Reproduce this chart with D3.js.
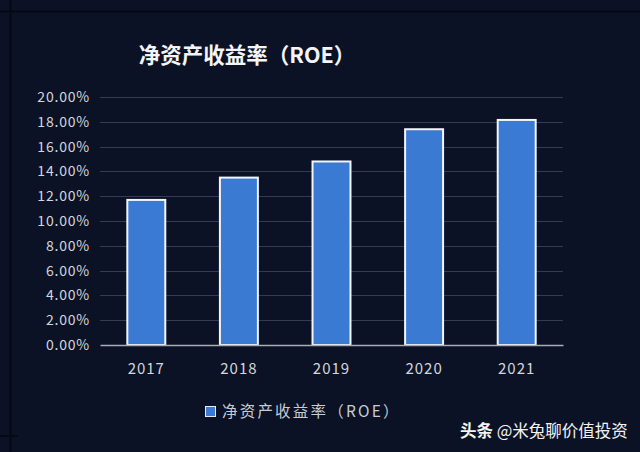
<!DOCTYPE html>
<html><head><meta charset="utf-8">
<script src="https://cdn.jsdelivr.net/npm/d3@7"></script>
<style>html,body{margin:0;padding:0;background:#0b1226;}svg{display:block;}</style>
</head><body><svg id="c" width="640" height="452"></svg>
<script>
const categories = ["2017","2018","2019","2020","2021"];
const roeValues = [11.7, 13.5, 14.8, 17.4, 18.15];
const yTicks = [0,2,4,6,8,10,12,14,16,18,20];
const titleText = "净资产收益率（ROE）";
const legendText = "净资产收益率（ROE）";

const svg = d3.select("#c");
svg.append("rect").attr("width",640).attr("height",452).attr("fill","#0b1226");
// frame lines
svg.append("line").attr("x1",0).attr("x2",640).attr("y1",11.5).attr("y2",11.5).attr("stroke","#050913").attr("stroke-width",2);
svg.append("line").attr("x1",10.5).attr("x2",10.5).attr("y1",0).attr("y2",452).attr("stroke","#050913").attr("stroke-width",2);
svg.append("line").attr("x1",0).attr("x2",18).attr("y1",436).attr("y2",436).attr("stroke","#050913").attr("stroke-width",2);

const x = d3.scaleBand().domain(categories).range([100,563]).paddingInner(0.59).paddingOuter(0.295);
const y = d3.scaleLinear().domain([0,20]).range([345,97]);

const font = "'Noto Sans CJK SC','Noto Sans',sans-serif";

// gridlines
svg.append("g").selectAll("line").data(yTicks.filter(d=>d>0)).join("line")
  .attr("x1",100).attr("x2",563).attr("y1",d=>Math.round(y(d))+0.5).attr("y2",d=>Math.round(y(d))+0.5)
  .attr("stroke","#343b52").attr("stroke-width",1.2);

// y axis labels
const yAxis = d3.axisLeft(y).tickValues(yTicks).tickSize(0).tickPadding(10).tickFormat(d=>d.toFixed(2)+"%");
const yg = svg.append("g").attr("transform","translate(100,0)").call(yAxis);
yg.select(".domain").remove();
yg.selectAll("text").attr("fill","#d4d6dc").attr("font-size",14).attr("letter-spacing",0.8).attr("font-family",font);

// bars
svg.append("g").selectAll("rect").data(roeValues).join("rect")
  .attr("x",(d,i)=>x(categories[i])).attr("width",x.bandwidth())
  .attr("y",d=>y(d)).attr("height",d=>y(0)-y(d))
  .attr("fill","#3b7ad3").attr("stroke","#f2f6fb").attr("stroke-width",2);

// x axis
const xAxis = d3.axisBottom(x).tickSize(0).tickPadding(18);
const xg = svg.append("g").attr("transform","translate(0,345)").call(xAxis);
xg.select(".domain").attr("stroke","#a8adb8").attr("stroke-width",1.3);
xg.selectAll("text").attr("fill","#d4d6dc").attr("font-size",15).attr("letter-spacing",1).attr("font-family",font);

// title
svg.append("text").attr("x",247).attr("y",63).attr("text-anchor","middle")
  .attr("fill","#f4f5f8").attr("font-size",21.5).attr("font-weight","bold").attr("font-family",font)
  .text(titleText);

// legend
svg.append("rect").attr("x",205.5).attr("y",406.5).attr("width",10).attr("height",10)
  .attr("fill","#3b7ad3").attr("stroke","#e8ecf2").attr("stroke-width",1);
svg.append("text").attr("x",222).attr("y",417).attr("fill","#c9ccd4").attr("font-size",15.5)
  .attr("font-family",font).attr("letter-spacing",2.2).text(legendText);

// watermark
const wm = svg.append("text").attr("x",460).attr("y",437).attr("fill","#f2f2f2").attr("font-size",16.5).attr("font-family",font);
wm.append("tspan").attr("font-weight","bold").text("头条");
wm.append("tspan").text(" @米兔聊价值投资");
</script></body></html>
